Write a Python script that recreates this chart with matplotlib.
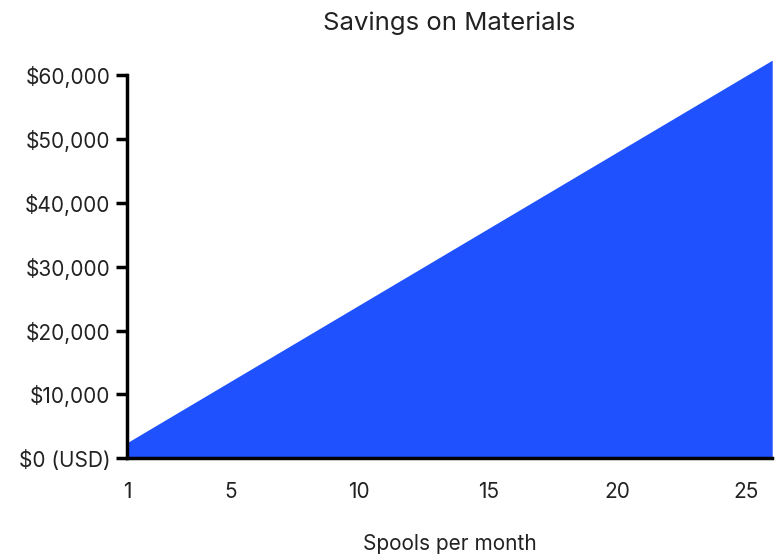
import matplotlib.pyplot as plt

plt.rcParams['font.family'] = ['Inter', 'DejaVu Sans']

spools = list(range(1, 27))
savings = [2400 * s for s in spools]   # ~$2,400 per spool

x_ticks = [1, 5, 10, 15, 20, 25]
y_ticks = [0, 10000, 20000, 30000, 40000, 50000, 60000]
y_labels = ['$0 (USD)', '$10,000', '$20,000', '$30,000', '$40,000', '$50,000', '$60,000']

fig = plt.figure(figsize=(7.8, 5.57), dpi=100)
ax = fig.add_axes([0.1628, 0.1777, 0.8272, 0.7143])

ax.fill_between(spools, savings, 0, color='#1f51ff', linewidth=0)

ax.set_xlim(1, 26)
ax.set_ylim(0, 62400)

ax.set_xticks(x_ticks)
ax.set_yticks(y_ticks)
ax.set_yticklabels(y_labels)

for side in ['top', 'right']:
    ax.spines[side].set_visible(False)
ax.spines['left'].set_bounds(0, 60000)
ax.spines['left'].set_linewidth(2.5)
ax.spines['bottom'].set_linewidth(2.5)
ax.spines['left'].set_zorder(3)
ax.spines['bottom'].set_zorder(3)

ax.tick_params(axis='y', length=8, width=2.5, labelsize=15, labelcolor='#222222', pad=4)
ax.tick_params(axis='x', length=0, labelsize=15, labelcolor='#222222', pad=17)

ax.set_xlabel('Spools per month', fontsize=15, color='#222222')
ax.xaxis.set_label_coords(0.5, -0.19)
ax.set_title('Savings on Materials', fontsize=18.5, color='#222222', pad=22)

fig.savefig('out.png', dpi=100)
